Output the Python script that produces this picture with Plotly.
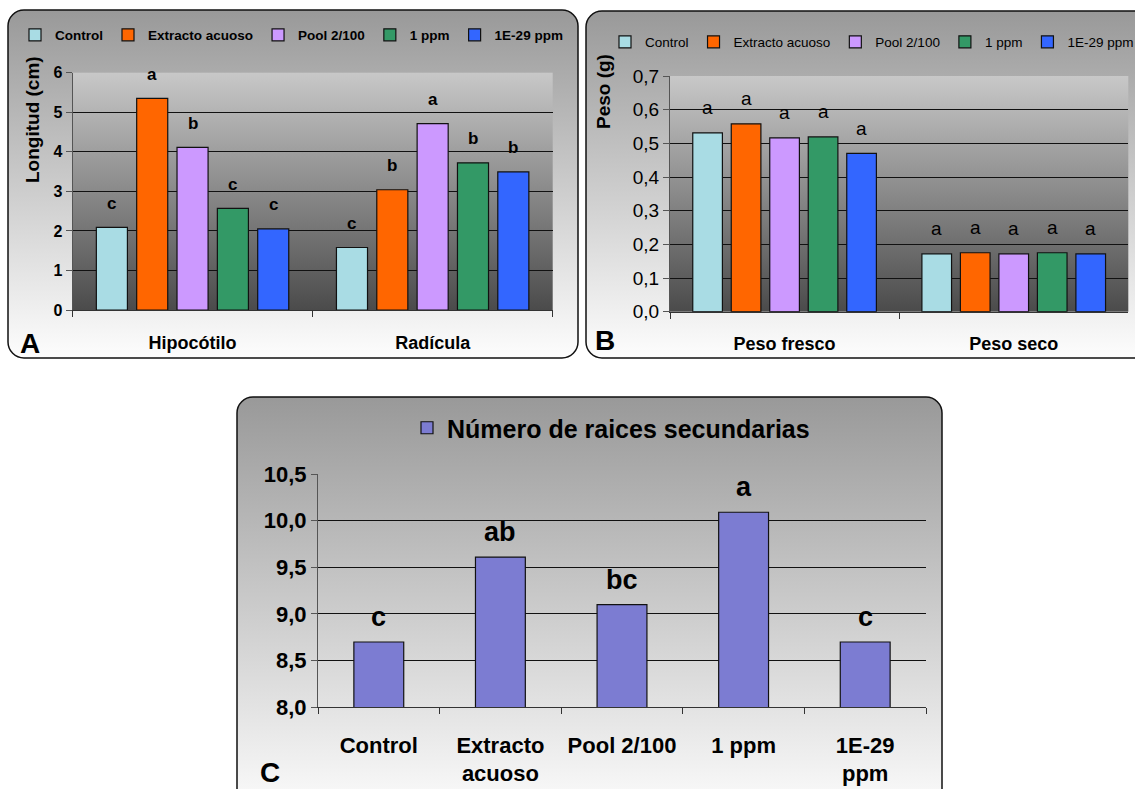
import base64
import plotly.graph_objects as go

W, H = 1135, 789

# ---------------- data ----------------
tratamientos = ["Control", "Extracto acuoso", "Pool 2/100", "1 ppm", "1E-29 ppm"]
colores = ["#a9dce4", "#ff6600", "#cc99ff", "#339966", "#3366ff"]

# A: longitud (cm)
organos = ["Hipocótilo", "Radícula"]
long_control = [2.09, 1.58]
long_extracto = [5.35, 3.04]
long_pool = [4.11, 4.71]
long_1ppm = [2.57, 3.72]
long_1e29 = [2.05, 3.49]
letras_long_control = ["c", "c"]
letras_long_extracto = ["a", "b"]
letras_long_pool = ["b", "a"]
letras_long_1ppm = ["c", "b"]
letras_long_1e29 = ["c", "b"]

# B: peso (g)
pesos = ["Peso fresco", "Peso seco"]
peso_control = [0.531, 0.172]
peso_extracto = [0.558, 0.175]
peso_pool = [0.516, 0.172]
peso_1ppm = [0.519, 0.175]
peso_1e29 = [0.470, 0.172]
letras_peso_control = ["a", "a"]
letras_peso_extracto = ["a", "a"]
letras_peso_pool = ["a", "a"]
letras_peso_1ppm = ["a", "a"]
letras_peso_1e29 = ["a", "a"]

# C: número de raíces secundarias
trat_c = ["Control", "Extracto<br>acuoso", "Pool 2/100", "1 ppm", "1E-29<br>ppm"]
raices = [8.70, 9.61, 9.10, 10.09, 8.70]
letras_raices = ["c", "ab", "bc", "a", "c"]

long_series = [long_control, long_extracto, long_pool, long_1ppm, long_1e29]
long_letras = [letras_long_control, letras_long_extracto, letras_long_pool,
               letras_long_1ppm, letras_long_1e29]
peso_series = [peso_control, peso_extracto, peso_pool, peso_1ppm, peso_1e29]
peso_letras = [letras_peso_control, letras_peso_extracto, letras_peso_pool,
               letras_peso_1ppm, letras_peso_1e29]

# ---------------- layout geometry (pixels) ----------------
FONT = 'Arial, "Liberation Sans", sans-serif'
BARGAP, GROUPGAP = 0.16, 0.23

A_X = (72.5, 552.7)
A_Y = (72.7, 310.0)
B_X = (670.0, 1128.3)
B_Y = (76.0, 311.7)
C_X = (318.0, 926.0)
C_Y = (474.0, 707.3)


def fx(px):
    return px / W


def fy(py):
    return 1 - py / H


def dom_x(r):
    return [fx(r[0]), fx(r[1])]


def dom_y(r):
    return [fy(r[1]), fy(r[0])]


# ---------------- background: rounded frames + gradient plot areas ----------------
def fondo_svg():
    marcos = [(8, 10, 570, 348), (586, 11, 580, 347), (237, 397, 705, 420)]
    parts = [
        f'<svg xmlns="http://www.w3.org/2000/svg" width="{W}" height="{H}" viewBox="0 0 {W} {H}">',
        '<defs>',
        '<linearGradient id="marco" x1="0" y1="0" x2="0" y2="1">'
        '<stop offset="0" stop-color="#999999"/><stop offset="1" stop-color="#fdfdfd"/></linearGradient>',
        '<linearGradient id="area" x1="0" y1="0" x2="0" y2="1">'
        '<stop offset="0" stop-color="#c8c8c8"/><stop offset="1" stop-color="#4b4b4b"/></linearGradient>',
        '</defs>',
    ]
    for (x, y, w, h) in marcos:
        parts.append(f'<rect x="{x}" y="{y}" width="{w}" height="{h}" rx="16" ry="16" '
                     f'fill="url(#marco)" stroke="#111" stroke-width="1.5"/>')
    for (xr, yr) in [(A_X, A_Y), (B_X, B_Y)]:
        parts.append(f'<rect x="{xr[0]}" y="{yr[0]}" width="{xr[1]-xr[0]}" height="{yr[1]-yr[0]}" '
                     f'fill="url(#area)"/>')
    parts.append('</svg>')
    return "data:image/svg+xml;base64," + base64.b64encode("".join(parts).encode()).decode()


fig = go.Figure()

# ---------------- bars ----------------
for nombre, color, vals in zip(tratamientos, colores, long_series):
    fig.add_trace(go.Bar(x=organos, y=vals, name=nombre, marker_color=color,
                         marker_line=dict(color="#111", width=1.2),
                         xaxis="x", yaxis="y", legend="legend", hoverinfo="skip"))
for nombre, color, vals in zip(tratamientos, colores, peso_series):
    fig.add_trace(go.Bar(x=pesos, y=vals, name=nombre, marker_color=color,
                         marker_line=dict(color="#111", width=1.2),
                         xaxis="x2", yaxis="y2", legend="legend2", hoverinfo="skip"))
fig.add_trace(go.Bar(x=trat_c, y=raices, name="Número de raices secundarias",
                     marker_color="#7c7cd2", marker_line=dict(color="#111", width=1.2),
                     width=0.41, xaxis="x3", yaxis="y3", legend="legend3", hoverinfo="skip"))

# ---------------- significance letters ----------------
annotations = []


def letras_grupo(cats, series, letras, xr, xref, yref, size, weight, yshift):
    n = len(series)
    cat_px = (xr[1] - xr[0]) / len(cats)
    slot = cat_px * (1 - BARGAP) / n
    for i, (vals, lets) in enumerate(zip(series, letras)):
        for c, v, t in zip(cats, vals, lets):
            annotations.append(dict(
                x=c, y=v, xref=xref, yref=yref, text=t, showarrow=False,
                xshift=(i - (n - 1) / 2) * slot, yshift=yshift, yanchor="middle",
                font=dict(family=FONT, size=size, color="black", weight=weight)))


letras_grupo(organos, long_series, long_letras, A_X, "x", "y", 17, "bold", 24)
letras_grupo(pesos, peso_series, peso_letras, B_X, "x2", "y2", 19, "normal", 25)
for c, v, t in zip(trat_c, raices, letras_raices):
    annotations.append(dict(x=c, y=v, xref="x3", yref="y3", text=t, showarrow=False,
                            yshift=25, yanchor="middle",
                            font=dict(family=FONT, size=27, color="black", weight="bold")))

# ---------------- panel letters and y-axis titles ----------------
for txt, px, py in [("A", 30, 343), ("B", 605, 340), ("C", 270, 772)]:
    annotations.append(dict(x=fx(px), y=fy(py), xref="paper", yref="paper", text=txt,
                            showarrow=False, xanchor="center", yanchor="middle",
                            font=dict(family=FONT, size=28, color="black", weight="bold")))
for txt, px, py in [("Longitud (cm)", 33, 120), ("Peso (g)", 604, 92)]:
    annotations.append(dict(x=fx(px), y=fy(py), xref="paper", yref="paper", text=txt,
                            showarrow=False, textangle=-90, xanchor="center", yanchor="middle",
                            font=dict(family=FONT, size=19, color="black", weight="bold")))

# ---------------- axes ----------------
def cat_axis(xr, anchor, size, standoff):
    return dict(domain=dom_x(xr), anchor=anchor, type="category", tickson="boundaries",
                ticks="outside", ticklen=6, tickcolor="#333", showline=True, linecolor="#333",
                showgrid=False, ticklabelstandoff=standoff, fixedrange=True,
                tickfont=dict(family=FONT, size=size, color="black", weight="bold"))


def val_axis(yr, anchor, rng, dtick, grid_vals, size, weight, fmt=None):
    d = dict(domain=dom_y(yr), anchor=anchor, range=rng, dtick=dtick, tick0=rng[0],
             showline=True, linecolor="#555", ticks="outside", ticklen=6, tickcolor="#555",
             showgrid=False, zeroline=False, fixedrange=True,
             minor=dict(tickvals=grid_vals, showgrid=True, gridcolor="#111", gridwidth=1, ticks=""),
             tickfont=dict(family=FONT, size=size, color="black", weight=weight))
    if fmt:
        d["tickformat"] = fmt
    return d


grid_a = list(range(1, 6))
grid_b = [round(0.1 * k, 1) for k in range(1, 7)]
grid_c = [8.5, 9.0, 9.5, 10.0, 10.5]

legend_common = dict(orientation="h", xanchor="left", yanchor="middle",
                     bgcolor="rgba(0,0,0,0)", borderwidth=0, itemclick=False,
                     itemdoubleclick=False)

fig.update_layout(
    width=W, height=H,
    margin=dict(l=0, r=0, t=0, b=0, autoexpand=False),
    paper_bgcolor="white", plot_bgcolor="rgba(0,0,0,0)",
    separators=",.",
    barmode="group", bargap=BARGAP, bargroupgap=GROUPGAP,
    xaxis=cat_axis(A_X, "y", 18, 16),
    yaxis=val_axis(A_Y, "x", [0, 6], 1, grid_a, 16, "bold"),
    xaxis2=cat_axis(B_X, "y2", 18, 16),
    yaxis2=val_axis(B_Y, "x2", [0, 0.7], 0.1, grid_b, 19, "normal", ".1f"),
    xaxis3=cat_axis(C_X, "y3", 22, 18),
    yaxis3=val_axis(C_Y, "x3", [8, 10.5], 0.5, grid_c, 22, "bold", ".1f"),
    legend=dict(**legend_common, x=fx(15), y=fy(35),
                font=dict(family=FONT, size=13.5, color="black", weight="bold")),
    legend2=dict(**legend_common, x=fx(605), y=fy(42),
                 font=dict(family=FONT, size=13.5, color="black")),
    legend3=dict(**legend_common, x=fx(407), y=fy(428),
                 font=dict(family=FONT, size=25, color="black", weight="bold")),
    annotations=annotations,
    images=[dict(source=fondo_svg(), xref="paper", yref="paper", x=0, y=1, sizex=1, sizey=1,
                 xanchor="left", yanchor="top", sizing="stretch", layer="below")],
    showlegend=True,
)

fig.write_html("out.html")
